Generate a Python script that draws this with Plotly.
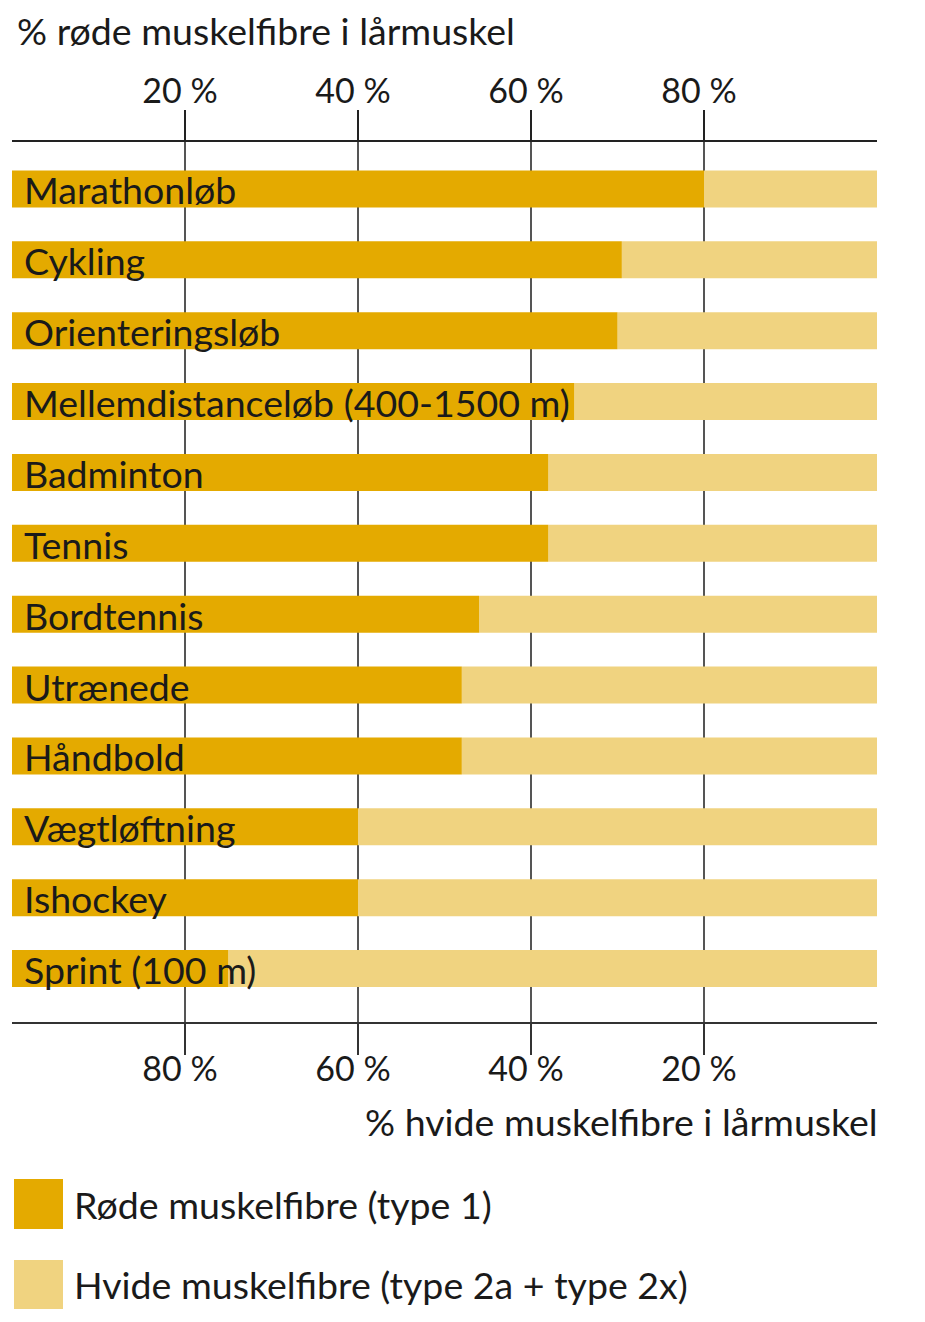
import plotly.graph_objects as go

# data (share of red fibres, %)
sports = ["Marathonløb", "Cykling", "Orienteringsløb", "Mellemdistanceløb (400-1500 m)",
          "Badminton", "Tennis", "Bordtennis", "Utrænede", "Håndbold",
          "Vægtløftning", "Ishockey", "Sprint (100 m)"]
red_pct = [80, 70.5, 70, 65, 62, 62, 54, 52, 52, 40, 40, 25]
white_pct = [100 - v for v in red_pct]

top_ticks = [20, 40, 60, 80]
bottom_ticks = [80, 60, 40, 20]

RED = "#E4AA00"
WHITE = "#F0D380"
INK = "#1a1a1a"
FONT = "Lato"
FS = 37.5
TICK_FS = 34

W, H = 925, 1322
OFF = 8  # page body margin
L, R, T, B = 4, 56, 134, 308


def px(x):
    return (x - OFF - L) / (W - L - R)


def py(y):
    return (H - B - (y - OFF)) / (H - T - B)


fig = go.Figure()

# white fibres measured from the right on the reversed bottom axis
fig.add_trace(go.Bar(
    y=sports, x=white_pct, orientation="h", xaxis="x", yaxis="y",
    marker=dict(color=WHITE, line=dict(width=0)), width=0.522,
    name="Hvide muskelfibre (type 2a + type 2x)", hoverinfo="x+y"))

# red fibres from the left on the top axis
fig.add_trace(go.Bar(
    y=sports, x=red_pct, orientation="h", xaxis="x2", yaxis="y",
    marker=dict(color=RED, line=dict(width=0)), width=0.522,
    name="Røde muskelfibre (type 1)", hoverinfo="x+y"))

annotations = []
for s in sports:
    annotations.append(dict(
        x=0, y=s, xref="x2", yref="y", text=s, showarrow=False,
        xanchor="left", yanchor="middle", xshift=10, yshift=-1,
        font=dict(family=FONT, size=FS, color=INK)))

annotations.append(dict(
    x=px(17), y=py(31), xref="paper", yref="paper", xanchor="left", yanchor="middle",
    text="% røde muskelfibre i lårmuskel", showarrow=False, xshift=-2,
    font=dict(family=FONT, size=FS, color=INK)))
annotations.append(dict(
    x=px(880), y=py(1121), xref="paper", yref="paper", xanchor="right", yanchor="middle",
    text="% hvide muskelfibre i lårmuskel", showarrow=False,
    font=dict(family=FONT, size=FS, color=INK)))

# legend swatches and texts
legend_items = [("Røde muskelfibre (type 1)", RED, 1179, 1229),
                ("Hvide muskelfibre (type 2a + type 2x)", WHITE, 1260, 1309)]
shapes = []
for label, col, y0, y1 in legend_items:
    shapes.append(dict(type="rect", xref="paper", yref="paper",
                       x0=px(14), x1=px(63), y0=py(y1), y1=py(y0),
                       fillcolor=col, line=dict(width=0)))
    annotations.append(dict(
        x=px(74), y=py((y0 + y1) / 2), xref="paper", yref="paper",
        xanchor="left", yanchor="middle", text=label, showarrow=False, xshift=-2,
        font=dict(family=FONT, size=FS, color=INK)))

fig.update_layout(
    width=W, height=H,
    margin=dict(l=L, r=R, t=T, b=B, pad=0),
    paper_bgcolor="white", plot_bgcolor="white",
    barmode="overlay", showlegend=False,
    font=dict(family=FONT, size=FS, color=INK),
    xaxis=dict(
        range=[100, 0], tickvals=bottom_ticks,
        ticktext=[f"{v} %" for v in bottom_ticks],
        showgrid=True, gridcolor="#555555", gridwidth=1.5,
        ticks="outside", ticklen=31, tickwidth=1.5, tickcolor="#333333",
        showline=True, linecolor="#333333", linewidth=1.5,
        zeroline=False, fixedrange=True,
        ticklabelstandoff=-15, ticklabelshift=5,
        tickfont=dict(family=FONT, size=TICK_FS, color=INK)),
    xaxis2=dict(
        range=[0, 100], overlaying="x", side="top", tickvals=top_ticks,
        ticktext=[f"{v} %" for v in top_ticks],
        showgrid=False,
        ticks="outside", ticklen=30, tickwidth=1.5, tickcolor="#222222",
        showline=True, linecolor="#222222", linewidth=1.5,
        zeroline=False, fixedrange=True,
        ticklabelstandoff=-6, ticklabelshift=-5,
        tickfont=dict(family=FONT, size=TICK_FS, color=INK)),
    yaxis=dict(
        categoryorder="array", categoryarray=sports,
        range=[11.755, -0.663], showticklabels=False, showgrid=False,
        zeroline=False, showline=False, fixedrange=True),
    annotations=annotations,
    shapes=shapes,
)

fig.write_html("out.html")
